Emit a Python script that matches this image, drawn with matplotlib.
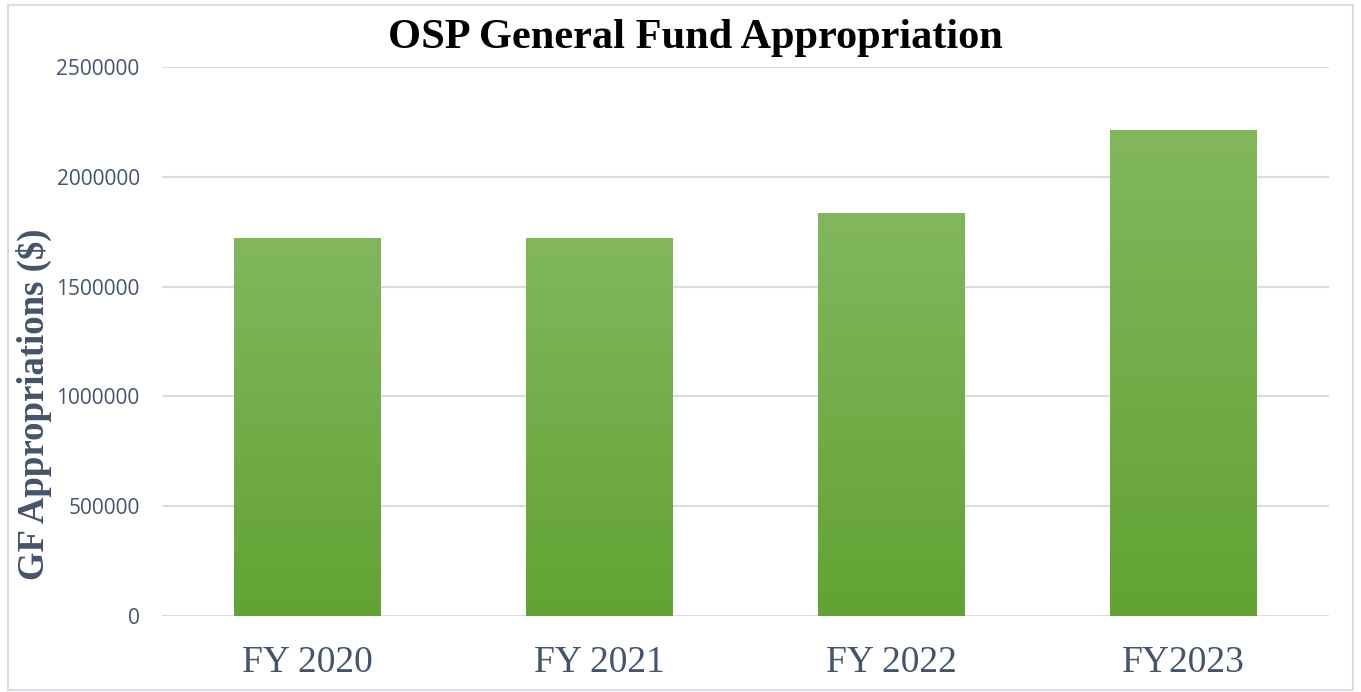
import numpy as np
import matplotlib.pyplot as plt
from matplotlib.patches import Rectangle
from matplotlib.colors import LinearSegmentedColormap

years = ['FY 2020', 'FY 2021', 'FY 2022', 'FY2023']
appropriations = [1717000, 1717000, 1831000, 2209000]
yticks = [0, 500000, 1000000, 1500000, 2000000, 2500000]

text_col = '#44546a'
grid_col = '#d9dde3'
green = LinearSegmentedColormap.from_list('g', ['#62a333', '#82b75e'])

fig = plt.figure(figsize=(13.61, 6.92), dpi=100)
ax = fig.add_axes([0.119, 0.1098, 0.8575, 0.7934])

x = np.arange(len(years))
bars = ax.bar(x, appropriations, width=0.503, color='none', zorder=3)

# vertical gradient for each bar
grad = np.linspace(0, 1, 256).reshape(-1, 1)
for b in bars:
    x0 = b.get_x()
    ax.imshow(grad, cmap=green, origin='lower', aspect='auto', zorder=3,
              extent=[x0, x0 + b.get_width(), 0, b.get_height()])

ax.set_xlim(-0.5, len(years) - 0.5)
ax.set_ylim(0, 2500000)
ax.set_yticks(yticks)
ax.set_yticklabels([str(v) for v in yticks], fontfamily='Open Sans',
                   fontsize=15, color=text_col)
ax.set_xticks(x)
ax.set_xticklabels(years, fontfamily='Liberation Serif', fontsize=27,
                   color=text_col)
ax.tick_params(axis='y', length=0, pad=16)
ax.tick_params(axis='x', length=0, pad=21)
ax.grid(axis='y', color=grid_col, linewidth=1.5, zorder=0)
for s in ax.spines.values():
    s.set_visible(False)

ax.set_ylabel('GF Appropriations ($)', fontfamily='Liberation Serif',
              fontweight='bold', fontsize=26.5, color=text_col)
ax.yaxis.set_label_coords(-0.094, 0.386)

fig.text(0.511, 0.945, 'OSP General Fund Appropriation', ha='center',
         va='center', fontfamily='Liberation Serif', fontweight='bold',
         fontsize=30.5, color='black')

# light border round the chart
fig.patches.append(Rectangle((0.006, 0.003), 0.988, 0.99, transform=fig.transFigure,
                             fill=False, edgecolor=grid_col, linewidth=1.5))

fig.savefig('out.png', dpi=100)
